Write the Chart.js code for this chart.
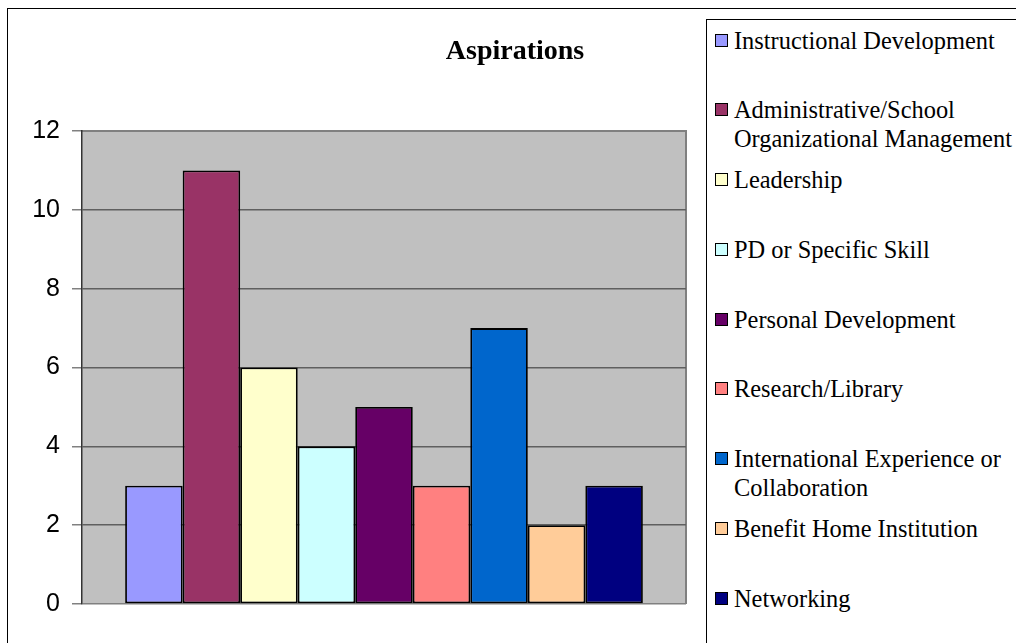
<!DOCTYPE html>
<html>
<head>
<meta charset="utf-8">
<title>Aspirations</title>
<script src="https://cdn.jsdelivr.net/npm/chart.js@4.4.1/dist/chart.umd.min.js"></script>
<style>
  html, body { margin: 0; padding: 0; background: #fff; overflow: hidden; }
  #wrap { position: relative; width: 1016px; height: 643px; overflow: hidden; }
  #frame { position: absolute; left: 7px; top: 8px; width: 1100px; height: 700px;
           border-left: 1px solid #000; border-top: 1px solid #000; }
  #myChart { position: absolute; left: 0; top: 0; }
  #legend { position: absolute; left: 706px; top: 19px; width: 400px; height: 700px;
            border-left: 1px solid #000; border-top: 1px solid #000; background: #fff;
            padding-top: 5.5px; box-sizing: border-box;
            font-family: "Liberation Serif", "Times New Roman", serif; font-size: 24.4px; color: #000; }
  .item { display: flex; align-items: flex-start; height: 69.8px; line-height: 29px; }
  .box { width: 13px; height: 13px; border: 1.5px solid #000; box-sizing: border-box;
         margin: 8px 6px 0 8px; flex: none; }
  .txt { width: 282px; }
</style>
</head>
<body>
<div id="wrap">
  <div id="frame"></div>
  <canvas id="myChart" width="1016" height="643"></canvas>
  <div id="legend"></div>
</div>
<script>
const categories = [''];
const seriesNames = [
  'Instructional Development',
  'Administrative/School Organizational Management',
  'Leadership',
  'PD or Specific Skill',
  'Personal Development',
  'Research/Library',
  'International Experience or Collaboration',
  'Benefit Home Institution',
  'Networking'
];
const seriesValues = [3, 11, 6, 4, 5, 3, 7, 2, 3];
const seriesColors = ['#9999ff', '#993366', '#ffffcc', '#ccffff', '#660066',
                      '#ff8080', '#0066cc', '#ffcc99', '#000080'];
const yTicks = [0, 2, 4, 6, 8, 10, 12];

// grey plot area with its border, like the old Excel charts
const plotArea = {
  id: 'plotArea',
  beforeDraw(chart) {
    const {ctx, chartArea: a} = chart;
    ctx.save();
    ctx.fillStyle = '#c0c0c0';
    ctx.fillRect(a.left, a.top, a.right - a.left, a.bottom - a.top);
    ctx.strokeStyle = '#808080';
    ctx.lineWidth = 2;
    ctx.beginPath();
    ctx.moveTo(a.left, a.top);
    ctx.lineTo(a.right, a.top);
    ctx.lineTo(a.right, a.bottom);
    ctx.stroke();
    ctx.restore();
  }
};

const ctx = document.getElementById('myChart');

const chart = new Chart(ctx, {
  type: 'bar',
  data: {
    labels: categories,
    datasets: seriesNames.map((name, i) => ({
      label: name,
      data: [seriesValues[i]],
      backgroundColor: seriesColors[i],
      borderColor: '#000',
      borderWidth: 1.8,
      borderSkipped: false,
      categoryPercentage: 9 / 10.5,
      barPercentage: 1
    }))
  },
  options: {
    responsive: false,
    animation: false,
    layout: { padding: { left: 14, right: 0, top: 0, bottom: 39 } },
    plugins: {
      legend: { display: false },
      tooltip: { enabled: false },
      title: {
        display: true,
        text: 'Aspirations',
        color: '#000',
        font: { family: '"Liberation Serif", "Times New Roman", serif', size: 28, weight: 'bold', lineHeight: 1.2 },
        padding: { top: 35.2, bottom: 62.2 }
      }
    },
    scales: {
      x: { display: false },
      y: {
        min: 0,
        max: 12,
        afterBuildTicks: (scale) => { scale.ticks = yTicks.map(v => ({ value: v })); },
        afterFit: (scale) => { scale.width = 68; },
        ticks: {
          color: '#000',
          padding: 12,
          font: { family: '"Liberation Sans", Arial, sans-serif', size: 25 }
        },
        grid: {
          color: (c) => (c.tick && (c.tick.value === 12 || c.tick.value === 0)) ? '#808080' : '#5f5f5f',
          lineWidth: 1.5,
          tickLength: 10,
          tickColor: '#808080'
        },
        border: { color: '#333', width: 1.5 }
      },
      // empty axis that keeps room for the legend on the right
      side: {
        position: 'right',
        display: true,
        afterFit: (scale) => { scale.width = 330; },
        ticks: { display: false },
        grid: { display: false },
        border: { display: false }
      }
    }
  },
  plugins: [plotArea]
});

// legend in html, built from the chart's datasets
const legendEl = document.getElementById('legend');
chart.data.datasets.forEach((ds) => {
  const item = document.createElement('div');
  item.className = 'item';
  const box = document.createElement('span');
  box.className = 'box';
  box.style.background = ds.backgroundColor;
  const txt = document.createElement('span');
  txt.className = 'txt';
  txt.textContent = ds.label;
  item.appendChild(box);
  item.appendChild(txt);
  legendEl.appendChild(item);
});
</script>
</body>
</html>
